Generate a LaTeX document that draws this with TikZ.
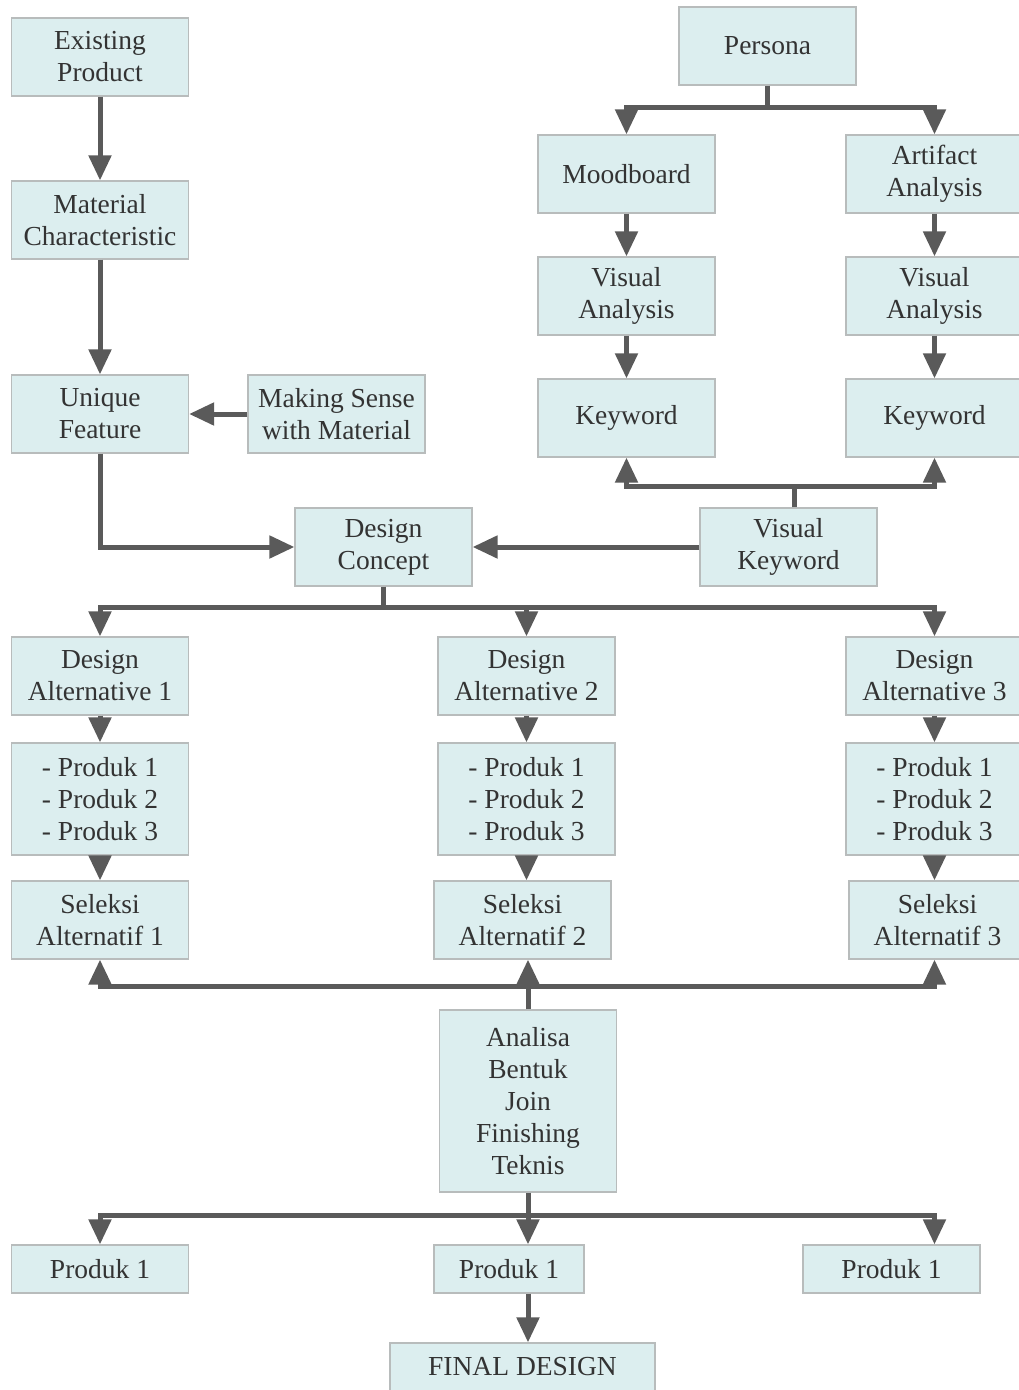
\documentclass[tikz,border=0pt]{standalone}
\usepackage{fontspec}
\setmainfont{Liberation Serif}
\usetikzlibrary{arrows.meta}
\definecolor{boxfill}{HTML}{DCEEEF}
\definecolor{boxline}{HTML}{B8BCBC}
\definecolor{arrowgrey}{HTML}{5A5A5A}
\definecolor{textgrey}{HTML}{333333}
\begin{document}
\begin{tikzpicture}[x=1pt, y=-1pt,
    box/.style={draw=boxline, line width=1.2pt, fill=boxfill, text=textgrey,
      align=center, minimum width=177pt, minimum height=78pt, inner sep=0pt,
      font=\fontsize{27.5}{32}\selectfont},
    link/.style={draw=arrowgrey, line width=5pt},
    arr/.style={link, -{Triangle[width=22pt,length=25pt]}}]
    \useasboundingbox (0,0) rectangle (1019,1390);
    % left column
    \node[box] (exist) at (100,57) {Existing\\Product};
    \node[box] (mat) at (100,220) {Material\\Characteristic};
    \node[box] (uniq) at (100,414) {Unique\\Feature};
    \node[box] (sense) at (336.5,414) {Making Sense\\with Material};
    \node[box] (concept) at (383.5,547) {Design\\Concept};
    % right column
    \node[box] (persona) at (767.5,46) {Persona};
    \node[box] (mood) at (626.5,174) {Moodboard};
    \node[box] (art) at (934.5,174) {Artifact\\Analysis};
    \node[box] (visL) at (626.5,296) {Visual\\Analysis};
    \node[box] (visR) at (934.5,296) {Visual\\Analysis};
    \node[box] (keyL) at (626.5,418) {Keyword};
    \node[box] (keyR) at (934.5,418) {Keyword};
    \node[box] (vkey) at (788.5,547) {Visual\\Keyword};
    % alternatives
    \node[box] (alt1) at (100,676) {Design\\Alternative 1};
    \node[box] (alt2) at (526.5,676) {Design\\Alternative 2};
    \node[box] (alt3) at (934.5,676) {Design\\Alternative 3};
    \node[box, minimum height=112pt] (list1) at (100,799) {- Produk 1\\- Produk 2\\- Produk 3};
    \node[box, minimum height=112pt] (list2) at (526.5,799) {- Produk 1\\- Produk 2\\- Produk 3};
    \node[box, minimum height=112pt] (list3) at (934.5,799) {- Produk 1\\- Produk 2\\- Produk 3};
    \node[box] (sel1) at (100,920) {Seleksi\\Alternatif 1};
    \node[box] (sel2) at (522.5,920) {Seleksi\\Alternatif 2};
    \node[box] (sel3) at (937.5,920) {Seleksi\\Alternatif 3};
    \node[box, minimum height=182pt] (ana) at (528,1101) {Analisa\\Bentuk\\Join\\Finishing\\Teknis};
    % results
    \node[box, minimum height=48pt] (prodL) at (100,1269) {Produk 1};
    \node[box, minimum height=48pt, minimum width=150pt] (prodM) at (509,1269) {Produk 1};
    \node[box, minimum height=48pt] (prodR) at (891.5,1269) {Produk 1};
    \node[box, minimum height=48pt, minimum width=265pt] (final) at (522.5,1367) {FINAL DESIGN};

    % connectors
    \draw[arr] (exist) -- (mat);
    \draw[arr] (mat) -- (uniq);
    \draw[arr] (sense) -- (uniq);
    \draw[arr] (uniq) |- (concept);
    \draw[arr] (vkey) -- (concept);

    \draw[link] (persona.south) -- ++(0,22) coordinate (pj);
    \draw[arr] (pj) -| (mood);
    \draw[arr] (pj) -| (art);
    \draw[arr] (mood) -- (visL);
    \draw[arr] (visL) -- (keyL);
    \draw[arr] (art) -- (visR);
    \draw[arr] (visR) -- (keyR);
    \draw[link] ([xshift=6pt]vkey.north) -- ++(0,-21) coordinate (kj);
    \draw[arr] (kj) -| (keyL);
    \draw[arr] (kj) -| (keyR);

    \draw[link] (concept.south) -- ++(0,21) coordinate (cj);
    \draw[arr] (cj) -| (alt1);
    \draw[arr] (cj) -| (alt2);
    \draw[arr] (cj) -| (alt3);
    \draw[arr] (alt1) -- (list1);
    \draw[arr] (alt2) -- (list2);
    \draw[arr] (alt3) -- (list3);
    \draw[arr] (list1) -- (sel1);
    \draw[arr] (list2.south) -- (sel2.north -| list2);
    \draw[arr] (list3.south) -- (sel3.north -| list3);

    \draw[link] (ana.north) -- ++(0,-23) coordinate (aj);
    \draw[arr] (aj) -| (sel1);
    \draw[arr] (aj) -- (sel2.south -| ana);
    \draw[arr] (aj) -| (sel3.south -| alt3);

    \draw[link] (ana.south) -- ++(0,23) coordinate (bj);
    \draw[arr] (bj) -| (prodL);
    \draw[arr] (bj) -- (prodM.north -| ana);
    \draw[arr] (bj) -| (prodR.north -| alt3);
    \draw[arr] (prodM.south -| ana) -- (final.north -| ana);
\end{tikzpicture}
\end{document}
